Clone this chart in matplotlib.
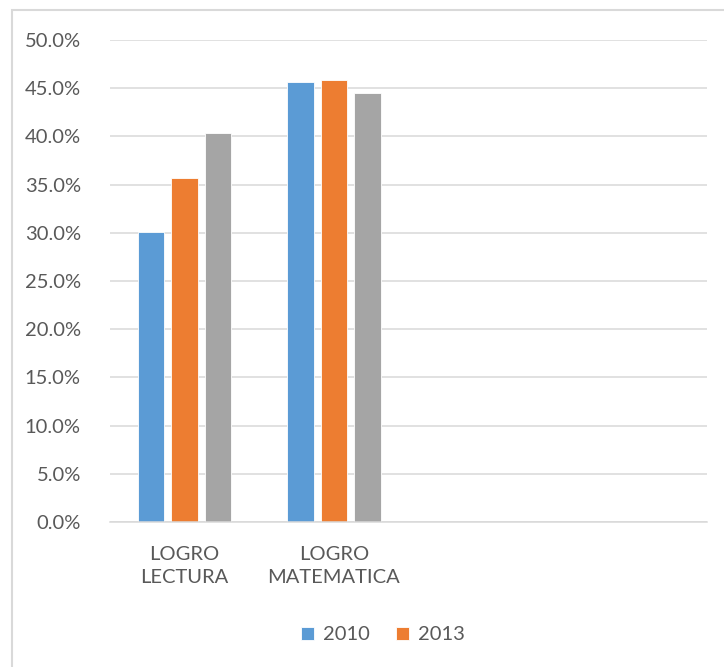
import numpy as np
import matplotlib.pyplot as plt
from matplotlib.patches import Rectangle
from matplotlib.ticker import FuncFormatter

# data
categories = ["LOGRO\nLECTURA", "LOGRO\nMATEMATICA", "", ""]
series_names = ["2010", "2013", "_nolegend_"]
series_colors = ["#5B9BD5", "#ED7D31", "#A5A5A5"]
values_2010 = [0.301, 0.456]
values_2013 = [0.357, 0.458]
values_third = [0.404, 0.445]
yticks = [i * 0.05 for i in range(11)]

TEXT = "#595959"
GRID = "#D9D9D9"
plt.rcParams['font.family'] = ['Lato', 'DejaVu Sans']

fig = plt.figure(figsize=(7.24, 6.67), dpi=100)
ax = fig.add_axes([110 / 724, 1 - 522 / 667, 597 / 724, 482 / 667])

x = np.arange(len(categories))
bar_w = 0.178
step = 0.224
all_series = [values_2010, values_2013, values_third]
for i, (vals, name, col) in enumerate(zip(all_series, series_names, series_colors)):
    xs = np.arange(len(vals)) + (i - 1) * step
    ax.bar(xs, vals, width=bar_w, color=col, label=name, zorder=3,
           edgecolor="white", linewidth=0.6)

ax.set_xlim(-0.5, len(categories) - 0.5)
ax.set_ylim(0, 0.5)
ax.set_yticks(yticks)
ax.yaxis.set_major_formatter(FuncFormatter(lambda v, p: f"{v * 100:.1f}%"))
ax.set_xticks(x)
ax.set_xticklabels(categories, linespacing=1.45)
ax.tick_params(axis="both", length=0, colors=TEXT, labelsize=14.5)
ax.tick_params(axis="y", pad=21)
ax.tick_params(axis="x", pad=17)
ax.grid(axis="y", color=GRID, linewidth=1.1, zorder=0)
for s in ["top", "right", "left"]:
    ax.spines[s].set_visible(False)
ax.spines["bottom"].set_color(GRID)
ax.spines["bottom"].set_linewidth(1.1)
ax.spines["bottom"].set_zorder(4)

fig.legend(loc="center", bbox_to_anchor=(383 / 724, 1 - 635 / 667), ncol=2,
           frameon=False, fontsize=14.5, labelcolor=TEXT, handlelength=0.65,
           handleheight=0.65, handletextpad=0.45, columnspacing=1.3)

# chart-area border (only left and top are visible in the reference)
fig.add_artist(Rectangle((11.5 / 724, -0.1), 1.2, 1 - 10 / 667 + 0.1,
                         transform=fig.transFigure, fill=False,
                         edgecolor=GRID, linewidth=1.5))

fig.savefig("out.png", dpi=100, facecolor="white")
